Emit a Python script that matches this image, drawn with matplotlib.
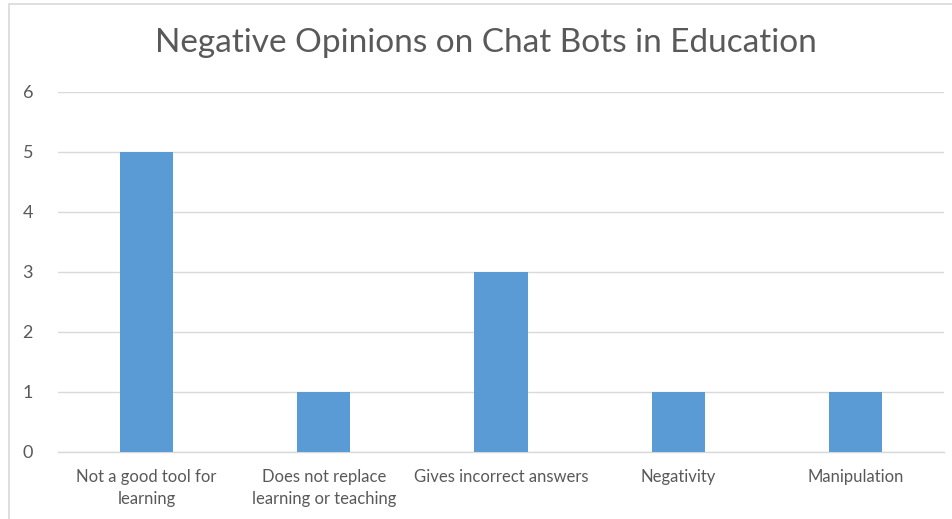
import matplotlib
matplotlib.use("Agg")
import matplotlib.pyplot as plt
from matplotlib.patches import Rectangle

categories = ["Not a good tool for\nlearning", "Does not replace\nlearning or teaching",
              "Gives incorrect answers", "Negativity", "Manipulation"]
values = [5, 1, 3, 1, 1]
yticks = [0, 1, 2, 3, 4, 5, 6]
title = "Negative Opinions on Chat Bots in Education"

plt.rcParams['font.family'] = ['Lato', 'DejaVu Sans']

W, H = 952, 519
fig = plt.figure(figsize=(W/100, H/100), dpi=100)
fig.patch.set_facecolor('white')

# outer chart border
fig.patches.append(Rectangle((9/W, -0.1), 1.2, 1 - 4/H + 0.1, transform=fig.transFigure,
                             fill=False, edgecolor='#d9d9d9', linewidth=1.2))

ax = fig.add_axes([58/W, 1 - 452/H, (944-58)/W, (452-92)/H])
x = range(len(categories))
ax.bar(x, values, width=0.30, color='#5b9bd5', zorder=3)
ax.set_xlim(-0.5, len(categories) - 0.5)
ax.set_ylim(0, 6)
ax.set_yticks(yticks)
ax.set_xticks(list(x))
ax.set_xticklabels(categories, fontsize=12, color='#595959', linespacing=1.45)
ax.tick_params(axis='y', labelsize=13, colors='#595959', length=0, pad=18)
ax.tick_params(axis='x', length=0, pad=12)
ax.grid(axis='y', color='#d9d9d9', linewidth=1, zorder=0)
for s in ['top', 'right', 'left']:
    ax.spines[s].set_visible(False)
ax.spines['bottom'].set_color('#d9d9d9')
ax.spines['bottom'].set_linewidth(1)

fig.text(486/W, 1 - 43/H, title, ha='center', va='center', fontsize=24, color='#595959')

fig.savefig('out.png', dpi=100)
